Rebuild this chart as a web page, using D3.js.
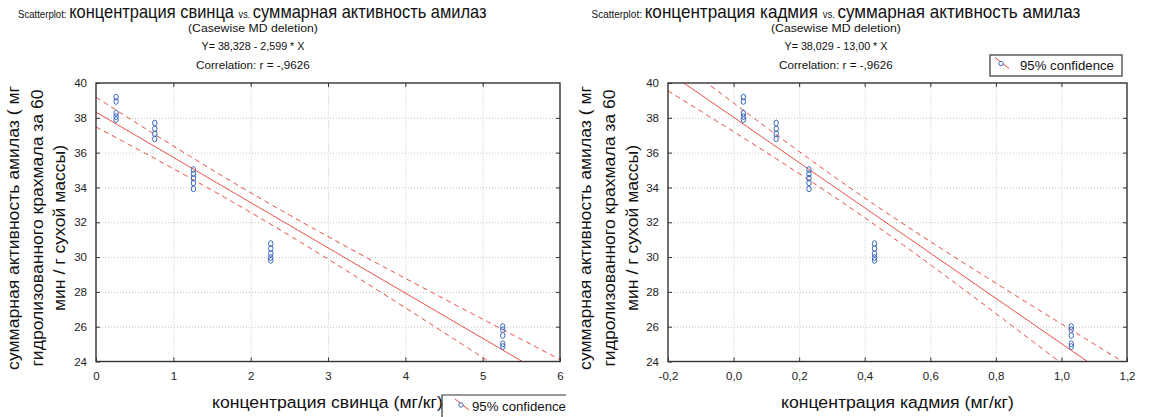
<!DOCTYPE html>
<html><head><meta charset="utf-8">
<script src="https://cdn.jsdelivr.net/npm/d3@7"></script>
<style>
body{margin:0;background:#fff;}
svg{display:block;font-family:"Liberation Sans",Arial,sans-serif;}
</style>
</head><body>
<svg id="c" width="1149" height="417"></svg>
<script>
// ---------- data ----------
const pbConc = [0.26,0.26,0.26,0.26,0.26, 0.76,0.76,0.76,0.76, 1.26,1.26,1.26,1.26,1.26, 2.26,2.26,2.26,2.26,2.26, 5.26,5.26,5.26,5.26,5.26];
const cdConc = [0.03,0.03,0.03,0.03,0.03, 0.13,0.13,0.13,0.13, 0.23,0.23,0.23,0.23,0.23, 0.43,0.43,0.43,0.43,0.43, 1.03,1.03,1.03,1.03,1.03];
const amylase = [39.19,38.94,38.27,38.07,37.90, 37.70,37.37,37.08,36.79, 35.03,34.78,34.53,34.26,33.92, 30.77,30.49,30.20,29.97,29.81, 26.01,25.82,25.50,25.02,24.86];
const intercepts = [38.328, 38.029];
const slopes = [-2.599, -13.00];
const tCrit = 2.074; // 95%, df = n-2
const eqTexts = ["Y= 38,328 - 2,599  * X", "Y= 38,029 - 13,00  * X"];
const corrText = "Correlation: r = -,9626";
const subTitle = "(Casewise MD deletion)";
const xVarNames = ["концентрация свинца", "концентрация кадмия"];
const yVarName = "суммарная активность амилаз";
const xAxisTitles = ["концентрация свинца (мг/кг)", "концентрация кадмия (мг/кг)"];
const yAxisTitleLines = ["суммарная активность амилаз ( мг", "гидролизованного крахмала за 60", "мин / г сухой массы)"];
const xTicksPb = [0,1,2,3,4,5,6];
const xTicksCd = [-0.2,0,0.2,0.4,0.6,0.8,1.0,1.2];
const yTicks = [24,26,28,30,32,34,36,38,40];
const legendLabel = "95% confidence";

// ---------- layout ----------
const svg = d3.select("#c");
const RED = "#e8413b", BLUE = "#3a68bd";
const plotTop = 83, plotBot = 361.5;
const panels = [
  {x: pbConc, dom:[0,6], rng:[96,560], ticks:xTicksPb, fmt:d=>String(d),
   tc:252.5, tw:469, sc:253, yt:[13,37,59], xt:[212,443],
   legend:{x:442,y:395,w:124,h:40,open:true,sym:13,tx:472,ty:411}},
  {x: cdConc, dom:[-0.2,1.2], rng:[668,1127], ticks:xTicksCd,
   fmt:d=>(d<0?"-":"")+Math.abs(d).toFixed(1).replace(".",","),
   tc:836, tw:489, sc:836, yt:[585,609,632], xt:[781,1014],
   legend:{x:990,y:55,w:132,h:21,open:false,sym:5,tx:1020,ty:69.5}}
];

function fitH(textSel, x0, y0, width){
  const w = textSel.node().getComputedTextLength();
  textSel.attr("x",0).attr("y",0).attr("text-anchor","start")
    .attr("transform",`translate(${x0},${y0}) scale(${width/w},1)`);
}

panels.forEach((p,pi)=>{
  const g = svg.append("g");
  const x = d3.scaleLinear().domain(p.dom).range(p.rng);
  const y = d3.scaleLinear().domain([24,40]).range([plotBot, plotTop]);
  const W = p.rng[1]-p.rng[0], H = plotBot-plotTop;

  // grid
  g.append("g").attr("transform",`translate(0,${plotBot})`)
    .call(d3.axisBottom(x).tickValues(p.ticks.slice(1,-1)).tickSize(-H).tickFormat(""))
    .call(s=>{s.select(".domain").remove(); s.selectAll("line").attr("stroke","#c4c4c4").attr("stroke-dasharray","1,2");});
  g.append("g").attr("transform",`translate(${p.rng[0]},0)`)
    .call(d3.axisLeft(y).tickValues(yTicks.slice(1,-1)).tickSize(-W).tickFormat(""))
    .call(s=>{s.select(".domain").remove(); s.selectAll("line").attr("stroke","#c4c4c4").attr("stroke-dasharray","1,2");});

  // axes with labels, inward ticks
  const styleAx = s=>{s.select(".domain").remove(); s.selectAll("line").attr("stroke","#333");
    s.selectAll("text").attr("fill","#222").attr("font-size",11.5).attr("font-family","Liberation Sans, Arial, sans-serif");};
  g.append("g").attr("transform",`translate(0,${plotBot})`)
    .call(d3.axisBottom(x).tickValues(p.ticks).tickSize(-4).tickPadding(10).tickFormat(p.fmt)).call(styleAx);
  g.append("g").attr("transform",`translate(${p.rng[0]},0)`)
    .call(d3.axisLeft(y).tickValues(yTicks).tickSize(-4).tickPadding(9).tickFormat(d3.format("d"))).call(styleAx);
  g.append("g").attr("transform",`translate(0,${plotTop})`)
    .call(d3.axisTop(x).tickValues(p.ticks.slice(1,-1)).tickSize(-4).tickFormat("")).call(styleAx);
  g.append("g").attr("transform",`translate(${p.rng[1]},0)`)
    .call(d3.axisRight(y).tickValues(yTicks.slice(1,-1)).tickSize(-4).tickFormat("")).call(styleAx);

  // regression + 95% band, computed from the plotted points
  const a = intercepts[pi], b = slopes[pi];
  const n = p.x.length, xbar = d3.mean(p.x);
  const sxx = d3.sum(p.x, v=>(v-xbar)**2);
  const sse = d3.sum(p.x, (v,i)=>(amylase[i]-(a+b*v))**2);
  const s = Math.sqrt(sse/(n-2));
  const xs = d3.range(0,301).map(i=>p.dom[0]+(p.dom[1]-p.dom[0])*i/300);
  const half = v=>tCrit*s*Math.sqrt(1/n+(v-xbar)**2/sxx);
  const clipId = "clip"+pi;
  g.append("clipPath").attr("id",clipId).append("rect")
    .attr("x",p.rng[0]).attr("y",plotTop).attr("width",W).attr("height",H);
  const lg = g.append("g").attr("clip-path",`url(#${clipId})`);
  const line = d3.line().x(d=>x(d[0])).y(d=>y(d[1]));
  lg.append("path").attr("d",line(xs.map(v=>[v,a+b*v]))).attr("fill","none").attr("stroke",RED).attr("stroke-width",1);
  [1,-1].forEach(sg=>{
    lg.append("path").attr("d",line(xs.map(v=>[v,a+b*v+sg*half(v)])))
      .attr("fill","none").attr("stroke",RED).attr("stroke-width",1).attr("stroke-dasharray","5,4");
  });

  // points
  g.append("g").selectAll("ellipse").data(p.x).join("ellipse")
    .attr("cx",d=>x(d)).attr("cy",(d,i)=>y(amylase[i])).attr("rx",2.2).attr("ry",2.9)
    .attr("fill","none").attr("stroke",BLUE).attr("stroke-width",1);

  // frame
  g.append("rect").attr("x",p.rng[0]).attr("y",plotTop).attr("width",W).attr("height",H)
    .attr("fill","none").attr("stroke","#333").attr("stroke-width",1.4);

  // title
  const t = svg.append("text").attr("fill","#111");
  t.append("tspan").attr("font-size",10.5).text("Scatterplot: ");
  t.append("tspan").attr("font-size",18).text(xVarNames[pi]+" ");
  t.append("tspan").attr("font-size",10).text("vs. ");
  t.append("tspan").attr("font-size",18).text(yVarName);
  fitH(t, p.tc-p.tw/2, 18, p.tw);

  const sub = [[subTitle,10.5,32,130],[eqTexts[pi],11,50,103],[corrText,11,69,114]];
  sub.forEach(([txt,fs,yy,w])=>{
    const tt = svg.append("text").attr("font-size",fs).attr("fill","#111").text(txt);
    fitH(tt, p.sc-w/2, yy, w);
  });

  // axis titles
  const xt = svg.append("text").attr("font-size",17).attr("fill","#111").text(xAxisTitles[pi]);
  fitH(xt, p.xt[0], 408, p.xt[1]-p.xt[0]);

  let k = null;
  yAxisTitleLines.forEach((ln,li)=>{
    const tt = svg.append("text").attr("font-size",17).attr("fill","#111").attr("text-anchor","middle").attr("dy","0.35em").text(ln);
    if(k===null) k = 284/tt.node().getComputedTextLength();
    tt.attr("transform",`translate(${p.yt[li]},228) rotate(-90) scale(${k},1)`);
  });

  // legend
  const L = p.legend;
  const lgd = svg.append("g");
  if(L.open){
    lgd.append("path").attr("d",`M${L.x},${L.y+L.h}V${L.y}H${L.x+L.w}`).attr("fill","none").attr("stroke","#333").attr("stroke-width",1.2);
  } else {
    lgd.append("rect").attr("x",L.x).attr("y",L.y).attr("width",L.w).attr("height",L.h).attr("fill","#fff").attr("stroke","#333").attr("stroke-width",1.2);
  }
  const sx = L.x+L.sym, sy = L.ty-12;
  lgd.append("line").attr("x1",sx).attr("y1",sy).attr("x2",sx+14).attr("y2",sy+11).attr("stroke",RED).attr("stroke-width",1);
  lgd.append("ellipse").attr("cx",sx+6).attr("cy",sy+6).attr("rx",2.2).attr("ry",2.2).attr("fill","#fff").attr("stroke",BLUE).attr("stroke-width",1);
  const ltx = lgd.append("text").attr("font-size",12).attr("fill","#111").text(legendLabel);
  fitH(ltx, L.tx, L.ty, 94);
});
</script>
</body></html>
